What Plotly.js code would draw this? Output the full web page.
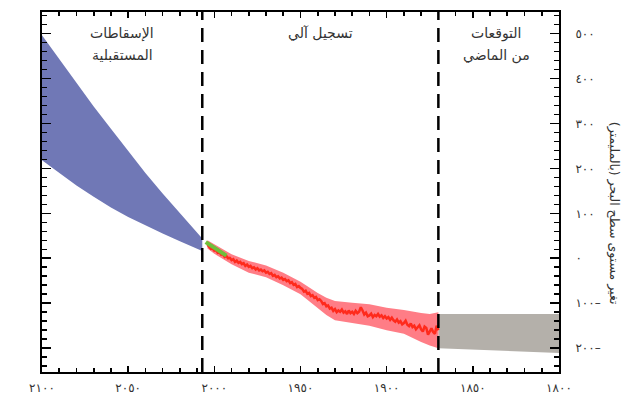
<!DOCTYPE html>
<html>
<head>
<meta charset="utf-8">
<script src="https://cdn.plot.ly/plotly-3.0.1.min.js"></script>
<style>html,body{margin:0;padding:0;background:#fff}#chart{width:635px;height:403px}</style>
</head>
<body>
<div id="chart"></div>
<script>
// ---- data ----
var projYears = [2007, 2020, 2030, 2040, 2050, 2060, 2070, 2080, 2090, 2100];
var projUpper = [44, 100, 144, 190, 238, 288, 338, 390, 443, 496];
var projLower = [16, 38, 55, 73, 92, 113, 137, 162, 189, 218];

var pastYears = [1800, 1835, 1870];
var pastUpper = [-124, -124, -124];
var pastLower = [-211, -206, -200];

var tideYears = [1870,1871,1872,1873,1874,1875,1876,1877,1878,1879,1880,1881,1882,1883,1884,1885,1886,1887,1888,1889,
  1890,1891,1892,1893,1894,1895,1896,1897,1898,1899,1900,1901,1902,1903,1904,1905,1906,1907,1908,1909,
  1910,1911,1912,1913,1914,1915,1916,1917,1918,1919,1920,1921,1922,1923,1924,1925,1926,1927,1928,1929,
  1930,1931,1932,1933,1934,1935,1936,1937,1938,1939,1940,1941,1942,1943,1944,1945,1946,1947,1948,1949,
  1950,1951,1952,1953,1954,1955,1956,1957,1958,1959,1960,1961,1962,1963,1964,1965,1966,1967,1968,1969,
  1970,1971,1972,1973,1974,1975,1976,1977,1978,1979,1980,1981,1982,1983,1984,1985,1986,1987,1988,1989,
  1990,1991,1992,1993,1994,1995,1996,1997,1998,1999,2000,2001,2002,2003,2004];
var tideLevel = [-160,-150,-168,-164,-156,-162,-170,-155,-152,-163,-158,-149,-154,-158,-150,-153,-145,-151,-148,-139,
  -144,-147,-140,-143,-136,-141,-138,-132,-137,-131,-134,-129,-133,-127,-130,-124,-129,-126,-131,-123,
  -127,-129,-121,-125,-116,-109,-119,-122,-117,-124,-119,-122,-116,-124,-118,-121,-114,-119,-116,-120,
  -113,-117,-110,-112,-105,-107,-100,-102,-95,-91,-93,-86,-88,-82,-84,-77,-79,-72,-74,-68,
  -66,-62,-64,-57,-59,-53,-55,-49,-51,-46,-48,-43,-45,-40,-42,-37,-39,-33,-35,-30,
  -32,-27,-29,-25,-27,-22,-25,-20,-22,-17,-19,-14,-17,-11,-13,-8,-10,-5,-8,-2,
  -4,1,0,5,3,9,8,13,12,18,17,22,21,27,30];

var bandYears = [1870, 1875, 1880, 1890, 1900, 1910, 1920, 1930, 1935, 1940, 1950, 1960, 1970, 1980, 1990, 2000, 2004];
var bandUpper = [-120, -124, -122, -115, -110, -102, -99, -95, -88, -77, -52, -32, -16, -6, 9, 32, 40];
var bandLower = [-200, -194, -186, -168, -160, -150, -144, -138, -126, -112, -80, -60, -42, -32, -13, 10, 22];

var satYears = [1993, 1996, 1999, 2002, 2005];
var satLevel = [6, 13, 21, 28, 36];

var periodBounds = [2007, 1870];

var xTickVals = [2100, 2050, 2000, 1950, 1900, 1850, 1800];
var xTickText = ['٢١٠٠', '٢٠٥٠', '٢٠٠٠', '١٩٥٠', '١٩٠٠', '١٨٥٠', '١٨٠٠'];
var yTickVals = [500, 400, 300, 200, 100, 0, -100, -200];
var yTickText = ['٥٠٠', '٤٠٠', '٣٠٠', '٢٠٠', '١٠٠', '٠', '١٠٠–', '٢٠٠–'];

var sectionLabels = [
  {lines: ['الإسقاطات', 'المستقبلية'], x: 0.155},
  {lines: ['تسجيل آلي'], x: 0.538},
  {lines: ['التوقعات', 'من الماضي'], x: 0.880}
];
var yTitle = 'تغير مستوى سطح البحر (بالمليمتر)\u200F';

// ---- helpers ----
function polyX(xs) { return xs.concat(xs.slice().reverse()); }
function polyY(up, lo) { return up.concat(lo.slice().reverse()); }

var traces = [
  {x: polyX(pastYears), y: polyY(pastUpper, pastLower), type: 'scatter', mode: 'lines',
   fill: 'toself', fillcolor: '#b4b0aa', line: {width: 0, color: '#b4b0aa'}, hoverinfo: 'skip'},
  {x: polyX(projYears), y: polyY(projUpper, projLower), type: 'scatter', mode: 'lines',
   fill: 'toself', fillcolor: '#7078b6', line: {width: 0, color: '#7078b6'}, hoverinfo: 'skip'},
  {x: polyX(bandYears), y: polyY(bandUpper, bandLower), type: 'scatter', mode: 'lines',
   fill: 'toself', fillcolor: '#ff7d86', line: {width: 0, color: '#ff7d86'}, hoverinfo: 'skip'},
  {x: tideYears, y: tideLevel, type: 'scatter', mode: 'lines',
   line: {width: 2.5, color: '#ff2a1c'}},
  {x: satYears, y: satLevel, type: 'scatter', mode: 'lines',
   line: {width: 4, color: '#6fbf3a'}}
];

var shapes = periodBounds.map(function (yr) {
  return {type: 'line', xref: 'x', yref: 'paper', x0: yr, x1: yr, y0: 0, y1: 1,
          line: {color: '#000', width: 2.5, dash: '14px,8px'}, layer: 'above'};
});

var annotations = [];
var lineY = [0.94, 0.88];
sectionLabels.forEach(function (s) {
  s.lines.forEach(function (t, i) {
    annotations.push({text: t, xref: 'paper', yref: 'paper', x: s.x, y: lineY[i],
      xanchor: 'center', yanchor: 'middle', showarrow: false,
      font: {family: 'DejaVu Sans', size: 14, color: '#333'}});
  });
});
annotations.push({text: yTitle, xref: 'paper', yref: 'paper', x: 1.108, y: 0.44,
  xanchor: 'center', yanchor: 'middle', textangle: 90, showarrow: false,
  font: {family: 'DejaVu Sans', size: 12.5, color: '#333'}});

var layout = {
  width: 635, height: 403,
  margin: {l: 42, r: 76, t: 12, b: 31},
  paper_bgcolor: '#fff', plot_bgcolor: '#fff',
  showlegend: false,
  font: {family: 'DejaVu Sans', size: 12, color: '#333'},
  xaxis: {
    range: [2100, 1800], tickmode: 'array', tickvals: xTickVals, ticktext: xTickText,
    ticks: 'inside', ticklen: 6, tickwidth: 1.6, tickcolor: '#000',
    showline: true, linewidth: 2, linecolor: '#000', mirror: 'allticks',
    showgrid: false, zeroline: false, ticklabelstandoff: 4,
    minor: {tickmode: 'linear', tick0: 1800, dtick: 10, ticks: 'inside', ticklen: 4, tickwidth: 1.6, tickcolor: '#000', showgrid: false},
    tickfont: {family: 'DejaVu Sans', size: 12, color: '#333'}
  },
  yaxis: {
    range: [-253, 548], side: 'right', tickmode: 'array', tickvals: yTickVals, ticktext: yTickText,
    ticks: 'inside', ticklen: 9, tickwidth: 1.6, tickcolor: '#000',
    showline: true, linewidth: 2, linecolor: '#000', mirror: 'allticks',
    showgrid: false, zeroline: false, ticklabelstandoff: 12,
    minor: {tickmode: 'linear', tick0: 0, dtick: 20, ticks: 'inside', ticklen: 5, tickwidth: 1.6, tickcolor: '#000', showgrid: false},
    tickfont: {family: 'DejaVu Sans', size: 12, color: '#333'}
  },
  shapes: shapes,
  annotations: annotations
};

Plotly.newPlot('chart', traces, layout, {displayModeBar: false, staticPlot: true});
</script>
</body>
</html>
